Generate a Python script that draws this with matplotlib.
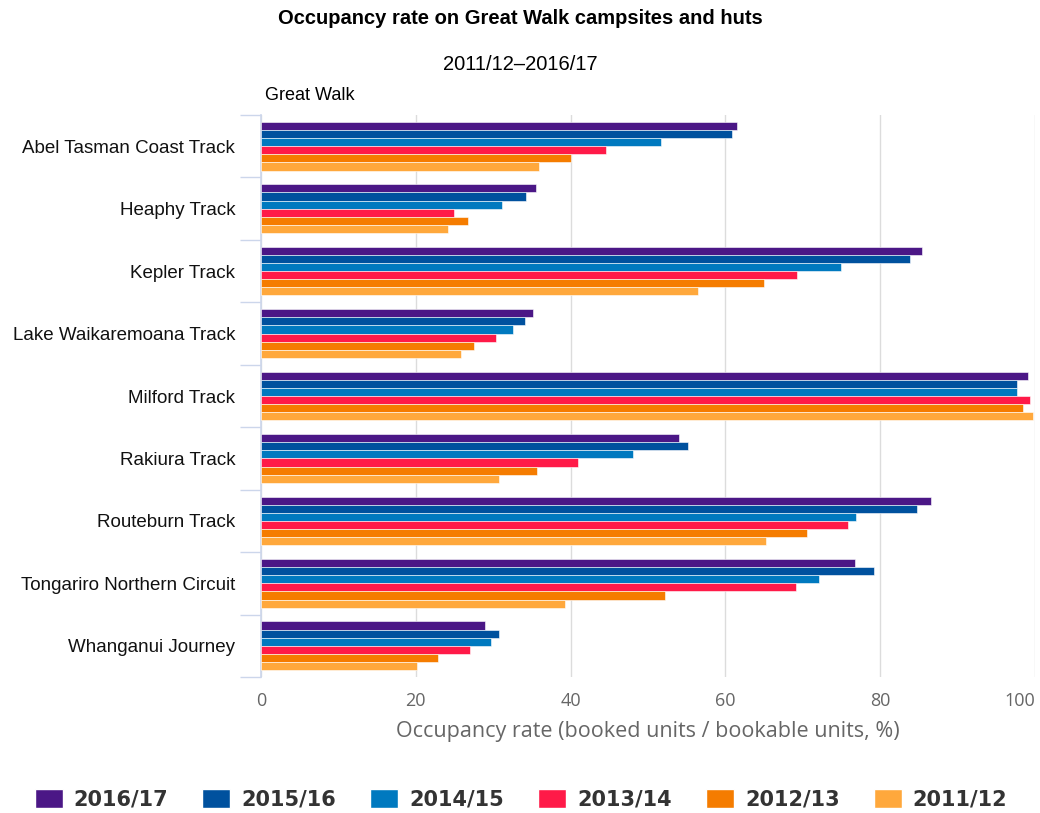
import matplotlib
matplotlib.use("Agg")
import matplotlib.pyplot as plt
from matplotlib.patches import Patch
import numpy as np

categories = ["Abel Tasman Coast Track", "Heaphy Track", "Kepler Track",
              "Lake Waikaremoana Track", "Milford Track", "Rakiura Track",
              "Routeburn Track", "Tongariro Northern Circuit", "Whanganui Journey"]
series_names = ["2016/17", "2015/16", "2014/15", "2013/14", "2012/13", "2011/12"]
v_2016_17 = [61.5, 35.5, 85.4, 35.2, 99.1, 54.0, 86.5, 76.7, 29.0]
v_2015_16 = [60.9, 34.3, 83.8, 34.1, 97.7, 55.2, 84.7, 79.2, 30.7]
v_2014_15 = [51.7, 31.1, 74.9, 32.5, 97.7, 48.0, 76.9, 72.1, 29.7]
v_2013_14 = [44.6, 24.9, 69.3, 30.4, 99.4, 41.0, 75.8, 69.1, 27.0]
v_2012_13 = [40.0, 26.8, 65.0, 27.5, 98.4, 35.7, 70.5, 52.2, 22.9]
v_2011_12 = [35.9, 24.2, 56.5, 25.8, 99.8, 30.7, 65.2, 39.3, 20.1]
series_values = [v_2016_17, v_2015_16, v_2014_15, v_2013_14, v_2012_13, v_2011_12]
colors = ["#4b1786", "#00519e", "#0079bf", "#ff1a48", "#f57c00", "#ffa83c"]
x_ticks = [0, 20, 40, 60, 80, 100]

fig = plt.figure(figsize=(10.4, 8.13), dpi=100)
ax = fig.add_axes([261/1040, 1-677/813, 774/1040, 562/813])

n = len(series_names)
group = 0.78
bh = group / n
y = np.arange(len(categories))
for j, (name, vals, c) in enumerate(zip(series_names, series_values, colors)):
    ax.barh(y - group/2 + bh/2 + j*bh, vals, height=bh, color=c,
            edgecolor="white", linewidth=0.4, label=name, zorder=3)

ax.set_xlim(0, 100)
ax.set_ylim(len(categories) - 0.5, -0.5)
ax.set_xticks(x_ticks)
ax.set_xticklabels([str(t) for t in x_ticks], fontsize=13, color="#666666", family="Open Sans")
ax.get_xticklabels()[-1].set_horizontalalignment("right")
ax.set_yticks(y)
ax.set_yticklabels(categories, fontsize=13.5, color="#111111", family="Liberation Sans")
ax.set_yticks(np.arange(len(categories) + 1) - 0.5, minor=True)
ax.tick_params(axis="y", which="major", length=0, pad=18.5)
ax.tick_params(axis="y", which="minor", length=15, color="#ccd6eb", width=1)
ax.tick_params(axis="x", length=0, pad=11)
ax.grid(axis="x", color="#dcdcdc", linewidth=1, zorder=0)
ax.set_axisbelow(True)
for s in ["top", "right", "bottom"]:
    ax.spines[s].set_visible(False)
ax.spines["left"].set_color("#ccd6eb")
ax.spines["left"].set_linewidth(1.2)

ax.set_xlabel("Occupancy rate (booked units / bookable units, %)", fontsize=15.5,
              color="#666666", family="Open Sans", labelpad=8)

fig.text(520/1040, 1-18/813, "Occupancy rate on Great Walk campsites and huts",
         ha="center", va="center", fontsize=14.5, fontweight="bold", family="Liberation Sans")
fig.text(520/1040, 1-65/813, "2011/12\u20132016/17", ha="center", va="center",
         fontsize=14.5, family="Liberation Sans")
fig.text(265/1040, 1-95/813, "Great Walk", ha="left", va="center",
         fontsize=13, family="Liberation Sans")

handles = [Patch(facecolor=c, edgecolor="white", label=nm) for nm, c in zip(series_names, colors)]
leg = fig.legend(handles=handles, loc="center", bbox_to_anchor=(521/1040, 1-799/813), ncol=6,
                 frameon=False, handlelength=1.35, handleheight=1.06,
                 handletextpad=0.53, columnspacing=1.63,
                 prop={"family": "DejaVu Sans", "weight": "bold", "size": 15})
for t in leg.get_texts():
    t.set_color("#333333")

fig.savefig("out.png", dpi=100)
